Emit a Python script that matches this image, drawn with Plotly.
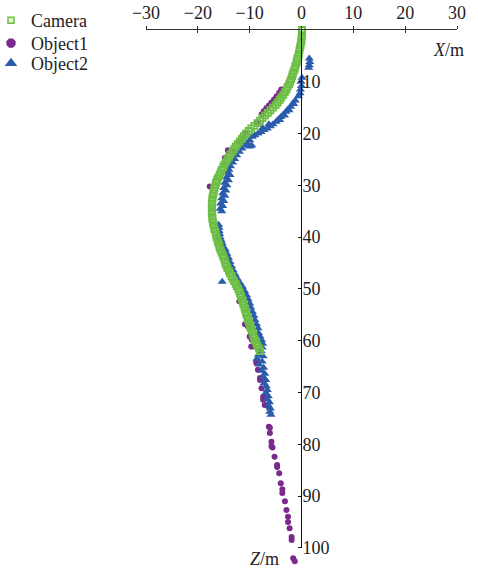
import plotly.graph_objects as go

# ---------------- data ----------------
cam_z = [0, 0.5, 1, 1.5, 2, 2.5, 3, 3.5, 4, 4.5, 5, 5.5, 6, 6.5, 7, 7.5, 8, 8.5, 9, 9.5,
         10, 10.5, 11, 11.5, 12, 12.5, 13, 13.5, 14, 14.5, 15, 15.5, 16, 16.5, 17, 17.5, 18, 18.5, 19, 19.5,
         20, 20.5, 21, 21.5, 22, 22.5, 23, 23.5, 24, 24.5, 25, 25.5, 26, 26.5, 27, 27.5, 28, 28.5, 29, 29.5,
         30, 30.5, 31, 31.5, 32, 32.5, 33, 33.5, 34, 34.5, 35, 35.5, 36, 36.5, 37, 37.5, 38, 38.5, 39, 39.5,
         40, 40.5, 41, 41.5, 42, 42.5, 43, 43.5, 44, 44.5, 45, 45.5, 46, 46.5, 47, 47.5, 48, 48.5, 49, 49.5,
         50, 50.5, 51, 51.5, 52, 52.5, 53, 53.5, 54, 54.5, 55, 55.5, 56, 56.5, 57, 57.5, 58, 58.5, 59, 59.5,
         60, 60.5, 61, 61.5, 62]
cam_x = [0.1, 0.1, 0.1, 0.0, 0.0, -0.1, -0.2, -0.3, -0.4, -0.5, -0.6, -0.8, -0.9, -1.0, -1.2, -1.3, -1.5, -1.7, -1.8, -2.0,
         -2.2, -2.4, -2.7, -2.9, -3.2, -3.5, -3.9, -4.2, -4.6, -5.0, -5.5, -6.0, -6.5, -7.0, -7.5, -8.0, -8.5, -9.1, -9.7, -10.2,
         -10.7, -11.1, -11.5, -11.9, -12.3, -12.7, -13.0, -13.3, -13.7, -14.0, -14.3, -14.6, -14.9, -15.1, -15.4, -15.6, -15.8, -16.1, -16.3, -16.5,
         -16.6, -16.8, -16.9, -17.0, -17.1, -17.2, -17.2, -17.3, -17.3, -17.3, -17.3, -17.3, -17.2, -17.2, -17.1, -17.0, -16.9, -16.8, -16.6, -16.5,
         -16.4, -16.2, -16.1, -15.9, -15.8, -15.6, -15.4, -15.2, -15.0, -14.8, -14.7, -14.5, -14.3, -14.0, -13.8, -13.5, -13.3, -13.0, -12.7, -12.5,
         -12.2, -12.0, -11.8, -11.7, -11.5, -11.3, -11.2, -11.0, -10.9, -10.7, -10.6, -10.4, -10.3, -10.1, -9.9, -9.8, -9.6, -9.4, -9.3, -9.1,
         -8.9, -8.7, -8.5, -8.2, -8.0]

obj1_x = [-3.9, -4.3, -4.8, -5.3, -5.8, -6.3, -6.8, -7.3, -7.7, -8.5, -10.9, -11.3, -11.9, -12.9, -14.2, -14.8, -15.1, -17.7,
          -12.0, -10.6, -10.9, -10.3, -10.0, -9.6, -9.7, -9.3, -8.7, -8.7, -8.4, -8.0, -8.0, -7.7, -7.4, -7.4, -7.1, -6.4,
          -6.3, -6.1, -6.1, -5.8, -5.8, -5.6, -5.2, -4.7, -4.7, -4.3, -4.0, -3.7, -3.7, -3.2, -2.9, -2.6, -2.6, -2.3,
          -1.9, -1.9, -1.6, -1.3]
obj1_z = [11.5, 12.1, 12.8, 13.4, 14.0, 14.6, 15.1, 15.7, 16.3, 17.8, 19.9, 20.9, 21.6, 23.5, 23.2, 24.7, 26.0, 30.2,
          52.4, 56.6, 56.8, 57.3, 59.2, 59.8, 61.1, 61.1, 64.0, 64.3, 65.6, 67.2, 67.6, 69.2, 70.8, 71.4, 72.4, 72.7,
          76.6, 76.8, 77.8, 79.5, 80.4, 80.6, 82.4, 84.0, 84.4, 85.6, 87.5, 88.7, 89.4, 91.0, 92.7, 94.0, 95.0, 96.2,
          97.9, 98.5, 102.0, 102.6]

obj2_x = [1.5, 1.6, 1.5, 1.4,
          0.1, -0.1, 0.0, -0.2, -0.3, -0.6,
          -1.2, -1.7, -2.1, -2.6, -3.0, -3.5, -4.0, -4.5, -4.9,
          -1.5, -2.4, -3.3, -4.2,
          -5.5, -6.3, -6.0, -6.6, -7.5, -7.2, -7.8, -8.4, -9.0, -9.5,
          -9.6, -10.0, -10.0, -10.5, -11.0, -11.5, -12.0, -12.5, -12.9, -13.3, -13.7, -14.0,
          -14.2, -13.8, -14.5, -14.1, -14.8, -14.4, -15.0, -14.6, -15.2, -14.8, -15.4, -15.0, -15.6, -15.2, -15.7, -15.4,
          -16.0, -15.9, -15.9, -15.8, -15.7, -15.5, -15.3, -15.1,
          -14.7, -14.4, -14.1, -13.8, -13.5, -13.2, -12.8, -12.4, -11.9, -11.4, -11.0, -10.6, -10.3, -10.0, -9.8, -9.5,
          -9.2, -9.0, -8.7, -8.4, -15.3,
          -8.3, -8.0, -7.7, -7.5, -7.6, -7.8, -8.3, -7.4, -8.6, -7.6, -8.2, -7.3, -7.7, -7.1, -7.4, -6.9, -7.2, -6.8,
          -6.6, -6.9, -6.4, -6.6, -6.2, -6.4, -6.0, -6.1, -5.9]
obj2_z = [5.5, 6.2, 6.8, 7.3,
          9.2, 10.0, 10.8, 11.5, 12.2, 12.8,
          13.6, 14.2, 14.8, 15.3, 15.8, 16.3, 16.8, 17.3, 17.7,
          14.3, 15.5, 16.5, 17.4,
          18.2, 18.2, 18.6, 19.0, 18.9, 19.3, 19.7, 20.0, 20.3, 20.6,
          22.3, 22.5, 21.3, 21.8, 22.3, 22.9, 23.5, 24.2, 24.9, 25.6, 26.3, 27.0,
          27.5, 28.0, 28.5, 29.0, 29.5, 30.0, 30.5, 31.0, 31.5, 32.0, 32.5, 33.0, 33.5, 34.0, 34.5, 35.0,
          37.6, 38.2, 38.8, 39.4, 40.0, 40.6, 41.2, 41.8,
          42.4, 43.2, 44.0, 44.8, 45.6, 46.4, 47.2, 48.0, 48.8, 49.6, 50.4, 51.2, 52.0, 52.8, 53.6, 54.4,
          55.2, 56.0, 56.8, 57.6, 48.6,
          58.5, 59.2, 59.9, 60.6, 61.3, 62.0, 62.7, 63.0, 63.5, 64.0, 64.6, 65.2, 65.8, 66.4, 67.0, 67.6, 68.2, 68.8,
          69.5, 70.1, 70.7, 71.3, 71.9, 72.5, 73.1, 73.7, 74.3]

x_ticks = [-30, -20, -10, 0, 10, 20, 30]
x_ticktext = ["\u221230", "\u221220", "\u221210", "0", "10", "20", "30"]
z_ticks = [10, 20, 30, 40, 50, 60, 70, 80, 90, 100]
Z_AXIS_END = 100
Z_VIEW_MAX = 103.5

GREEN = "#6dbf45"
PURPLE = "#7b2a8b"
BLUE = "#2b5bab"
FONT = "Liberation Serif"
TXT = "#222222"

# plot-area pixel geometry
L, R, T, B = 146, 21, 30, 3
W, H = 478, 569
PH = H - T - B


def py(pix):  # paper y from a pixel row
    return (H - B - pix) / PH


def px(pix):  # paper x from a pixel column
    return (pix - L) / (W - L - R)


fig = go.Figure()

fig.add_trace(go.Scatter(x=obj1_x, y=obj1_z, mode="markers", showlegend=False, cliponaxis=False,
                         marker=dict(symbol="circle", size=6, color=PURPLE)))
fig.add_trace(go.Scatter(x=obj2_x, y=obj2_z, mode="markers", showlegend=False, cliponaxis=False,
                         marker=dict(symbol="triangle-up", size=8, color=BLUE)))
fig.add_trace(go.Scatter(x=cam_x, y=cam_z, mode="markers", showlegend=False, cliponaxis=False,
                         marker=dict(symbol="square-open", size=6, color=GREEN, line=dict(width=1.8, color=GREEN))))

# legend entries, each in its own legend box
fig.add_trace(go.Scatter(x=[None], y=[None], mode="markers", name="Camera", legend="legend",
                         marker=dict(symbol="square", size=6, color="#dff2d3", line=dict(width=1.5, color=GREEN))))
fig.add_trace(go.Scatter(x=[None], y=[None], mode="markers", name="Object1", legend="legend2",
                         marker=dict(symbol="octagon", size=10, color=PURPLE)))
fig.add_trace(go.Scatter(x=[None], y=[None], mode="markers", name="Object2", legend="legend3",
                         marker=dict(symbol="triangle-up", size=11, color=BLUE)))

fig.add_trace(go.Scatter(x=[None], y=[None], xaxis="x2", yaxis="y2", showlegend=False))

leg_common = dict(xanchor="left", yanchor="top", bgcolor="rgba(0,0,0,0)",
                  font=dict(family=FONT, size=18, color=TXT), itemwidth=30)
leg_x = px(-9)

fig.update_layout(
    width=W, height=H,
    margin=dict(l=L, r=R, t=T, b=B, pad=0, autoexpand=False),
    plot_bgcolor="white", paper_bgcolor="white",
    font=dict(family=FONT, size=18, color=TXT),
    showlegend=True,
    legend=dict(x=leg_x, y=py(2), **leg_common),
    legend2=dict(x=leg_x, y=py(25), **leg_common),
    legend3=dict(x=leg_x, y=py(45), **leg_common),
    xaxis=dict(range=[-30, 30], side="top", tickvals=x_ticks, ticktext=x_ticktext, automargin=False,
               showline=True, linecolor="#333333", linewidth=1, ticks="outside", ticklen=3,
               tickcolor="#333333", showgrid=False, zeroline=False, fixedrange=True),
    xaxis2=dict(range=[-30, 30], side="top", overlaying="x", anchor="y", tickvals=x_ticks, automargin=False,
                showticklabels=False, showline=False, ticks="inside", ticklen=3,
                tickcolor="#333333", showgrid=False, zeroline=False, fixedrange=True),
    yaxis=dict(range=[Z_VIEW_MAX, 0], anchor="free", position=0.5, side="right", tickvals=z_ticks,
               automargin=False, showline=False, ticks="inside", ticklen=4,
               tickcolor="#111111", showgrid=False, zeroline=False, fixedrange=True),
    yaxis2=dict(range=[Z_VIEW_MAX, 0], overlaying="y", visible=False, fixedrange=True, automargin=False),
    shapes=[dict(type="line", xref="x", yref="y", x0=0, x1=0, y0=0, y1=Z_AXIS_END,
                 line=dict(color="#111111", width=1), layer="above")],
    annotations=[
        dict(text="<i>X</i>/m", xref="paper", yref="paper", x=px(448), y=py(50),
             xanchor="center", yanchor="middle",
             showarrow=False, font=dict(family=FONT, size=18, color=TXT)),
        dict(text="<i>Z</i>/m", xref="paper", yref="paper", x=px(264), y=py(559),
             xanchor="center", yanchor="middle",
             showarrow=False, font=dict(family=FONT, size=18, color=TXT)),
    ],
)

fig.write_html("out.html")
